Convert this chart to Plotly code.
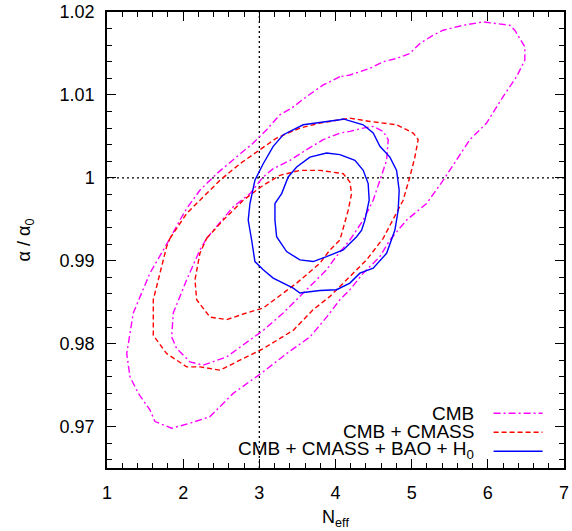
import plotly.graph_objects as go

# reference values
N_REF = 3.0
ALPHA_REF = 1.0

# axis ticks
x_tick_vals = [1, 2, 3, 4, 5, 6, 7]
x_tick_text = ["1", "2", "3", "4", "5", "6", "7"]
y_tick_vals = [0.97, 0.98, 0.99, 1.00, 1.01, 1.02]
y_tick_text = ["0.97", "0.98", "0.99", "1", "1.01", "1.02"]

# CMB contours (2 sigma outer, 1 sigma inner)
cmb_2s_x = [4.058, 3.839, 3.621, 3.424, 3.270, 3.096, 2.920, 2.702, 2.440, 2.220, 2.046, 1.958, 1.827,
            1.564, 1.345, 1.259, 1.302, 1.411, 1.564, 1.630, 1.849, 2.089, 2.352, 2.657, 3.051, 3.358,
            3.664, 3.883, 4.058, 4.189, 4.364, 4.583, 4.714, 4.933, 5.196, 5.413, 5.589, 5.764, 5.983,
            6.201, 6.377, 6.486, 6.486, 6.354, 6.289, 5.938, 5.676, 5.413, 5.282, 5.108, 4.976, 4.802,
            4.626, 4.451, 4.189]
cmb_2s_y = [1.0122, 1.0112, 1.0098, 1.0084, 1.0076, 1.0058, 1.0042, 1.0025, 1.0005, 0.9985, 0.9963, 0.9949, 0.9927,
            0.9885, 0.9837, 0.9788, 0.9760, 0.9740, 0.9720, 0.9706, 0.9698, 0.9704, 0.9712, 0.9740, 0.9766, 0.9788,
            0.9808, 0.9832, 0.9853, 0.9865, 0.9885, 0.9905, 0.9925, 0.9949, 0.9969, 0.9997, 1.0021, 1.0046, 1.0066,
            1.0098, 1.0122, 1.0142, 1.0158, 1.0178, 1.0184, 1.0188, 1.0184, 1.0178, 1.0172, 1.0162, 1.0150, 1.0144,
            1.0140, 1.0132, 1.0124]
cmb_1s_x = [2.308, 2.440, 2.657, 2.877, 3.051, 3.182, 3.402, 3.621, 3.839, 4.058, 4.189, 4.364, 4.495,
            4.626, 4.692, 4.671, 4.583, 4.495, 4.364, 4.189, 3.992, 3.883, 3.576, 3.314, 3.051, 2.789,
            2.571, 2.264, 2.089, 1.915, 1.849, 1.870, 2.046, 2.220]
cmb_1s_y = [0.9927, 0.9941, 0.9965, 0.9981, 1.0001, 1.0011, 1.0021, 1.0034, 1.0046, 1.0054, 1.0056, 1.0060, 1.0062,
            1.0056, 1.0046, 1.0021, 0.9997, 0.9973, 0.9949, 0.9925, 0.9903, 0.9889, 0.9861, 0.9837, 0.9816, 0.9798,
            0.9784, 0.9774, 0.9778, 0.9794, 0.9808, 0.9837, 0.9877, 0.9913]

# CMB + CMASS contours
cmass_2s_x = [1.827, 2.046, 2.264, 2.483, 2.745, 2.965, 3.227, 3.533, 3.795, 4.058, 4.189, 4.451, 4.802,
              5.020, 5.085, 5.042, 4.976, 4.888, 4.757, 4.626, 4.408, 4.146, 3.927, 3.707, 3.445, 3.051,
              2.745, 2.483, 2.220, 2.046, 1.783, 1.608, 1.608, 1.696, 1.783]
cmass_2s_y = [0.9927, 0.9957, 0.9977, 0.9997, 1.0017, 1.0031, 1.0048, 1.0060, 1.0066, 1.0070, 1.0072, 1.0068, 1.0064,
              1.0054, 1.0046, 1.0025, 1.0001, 0.9973, 0.9949, 0.9927, 0.9901, 0.9877, 0.9857, 0.9841, 0.9816, 0.9794,
              0.9780, 0.9768, 0.9772, 0.9772, 0.9788, 0.9810, 0.9853, 0.9885, 0.9917]
cmass_1s_x = [2.308, 2.526, 2.789, 3.051, 3.270, 3.533, 3.795, 3.927, 4.101, 4.189, 4.211, 4.167, 4.101,
              4.058, 3.927, 3.795, 3.490, 3.051, 2.833, 2.571, 2.352, 2.177, 2.155, 2.220]
cmass_1s_y = [0.9927, 0.9949, 0.9973, 0.9991, 1.0003, 1.0009, 1.0009, 1.0007, 1.0005, 0.9995, 0.9981, 0.9961, 0.9941,
              0.9925, 0.9913, 0.9897, 0.9873, 0.9843, 0.9837, 0.9829, 0.9832, 0.9853, 0.9877, 0.9909]

# CMB + CMASS + BAO + H0 contours
bao_2s_x = [4.058, 3.576, 3.314, 3.182, 3.051, 2.942, 2.877, 2.854, 2.899, 2.942, 3.051, 3.182, 3.445,
            3.533, 3.795, 4.014, 4.189, 4.320, 4.495, 4.671, 4.780, 4.823, 4.836, 4.802, 4.714, 4.583,
            4.495, 4.364, 4.101]
bao_2s_y = [1.0070, 1.0064, 1.0052, 1.0038, 1.0017, 0.9997, 0.9969, 0.9949, 0.9925, 0.9899, 0.9889, 0.9879, 0.9867,
            0.9861, 0.9864, 0.9865, 0.9873, 0.9885, 0.9891, 0.9909, 0.9937, 0.9961, 0.9985, 1.0009, 1.0025, 1.0038,
            1.0054, 1.0064, 1.0071]
bao_1s_x = [4.058, 3.883, 3.664, 3.490, 3.379, 3.293, 3.205, 3.205, 3.227, 3.358, 3.533, 3.707, 3.883,
            4.101, 4.277, 4.343, 4.386, 4.442, 4.429, 4.364, 4.255]
bao_1s_y = [1.0028, 1.0030, 1.0025, 1.0013, 1.0001, 0.9981, 0.9969, 0.9949, 0.9929, 0.9911, 0.9901, 0.9899, 0.9905,
            0.9913, 0.9929, 0.9937, 0.9949, 0.9973, 0.9993, 1.0009, 1.0021]

series_names = ["CMB", "CMB + CMASS", "CMB + CMASS + BAO + H<sub>0</sub>"]
series_data = [
    (cmb_2s_x, cmb_2s_y, cmb_1s_x, cmb_1s_y),
    (cmass_2s_x, cmass_2s_y, cmass_1s_x, cmass_1s_y),
    (bao_2s_x, bao_2s_y, bao_1s_x, bao_1s_y),
]
series_style = [
    dict(color="#ff00ff", dash="7px,3px,2px,3px"),
    dict(color="#ff0000", dash="5px,3px"),
    dict(color="#0000ff", dash="solid"),
]

FONT = "Liberation Sans, Arial, sans-serif"
FS = 18

fig = go.Figure()


def closed(xs, ys):
    return list(xs) + [xs[0]], list(ys) + [ys[0]]


for name, (ox, oy, ix, iy), st in zip(series_names, series_data, series_style):
    cx1, cy1 = closed(ox, oy)
    cx2, cy2 = closed(ix, iy)
    fig.add_trace(go.Scatter(
        x=cx1 + [None] + cx2, y=cy1 + [None] + cy2,
        mode="lines", name="", connectgaps=False,
        line=dict(color=st["color"], dash=st["dash"], width=1.4),
        hovertemplate=name + "<extra></extra>",
    ))

# reference lines
fig.add_shape(type="line", xref="x", yref="paper", x0=N_REF, x1=N_REF, y0=0, y1=1,
              line=dict(color="black", width=1.3, dash="2px,3px"), layer="below")
fig.add_shape(type="line", xref="paper", yref="y", x0=0, x1=1, y0=ALPHA_REF, y1=ALPHA_REF,
              line=dict(color="black", width=1.3, dash="2px,3px"), layer="below")

# legend labels (text sits left of the line samples, as in the reference)
legend_y = [0.12, 0.080, 0.040]
for name, ly in zip(series_names, legend_y):
    fig.add_annotation(text=name, xref="paper", yref="paper", x=0.808, y=ly,
                       xanchor="right", yanchor="middle", showarrow=False,
                       font=dict(family=FONT, size=19, color="black"))

axis_common = dict(
    showgrid=False, zeroline=False, showline=True, linecolor="black", linewidth=1.5,
    mirror="allticks", ticks="inside", ticklen=9, tickwidth=1.3, tickcolor="black",
    tickfont=dict(family=FONT, size=FS, color="black"), automargin=False,
)

fig.update_layout(
    width=572, height=531,
    margin=dict(l=107, r=8, t=12, b=63),
    plot_bgcolor="white", paper_bgcolor="white",
    showlegend=True,
    legend=dict(x=0.835, y=0.152, xanchor="left", yanchor="top",
                bgcolor="rgba(0,0,0,0)", borderwidth=0, itemwidth=49,
                font=dict(family=FONT, size=12), tracegroupgap=0),
    xaxis=dict(range=[1, 7], tickmode="array", tickvals=x_tick_vals, ticktext=x_tick_text,
               minor=dict(ticks="inside", ticklen=5, tickwidth=1.3, tickcolor="black", dtick=0.2, tick0=1, showgrid=False),
               ticklabelstandoff=8,
               title=dict(text="N<sub>eff</sub>", font=dict(family=FONT, size=FS, color="black"), standoff=8),
               **axis_common),
    yaxis=dict(range=[0.965, 1.02], tickmode="array", tickvals=y_tick_vals, ticktext=y_tick_text,
               minor=dict(ticks="inside", ticklen=5, tickwidth=1.3, tickcolor="black", dtick=0.002, tick0=0.97, showgrid=False),
               ticklabelstandoff=7,
               title=dict(text="α / α<sub>0</sub>", font=dict(family=FONT, size=FS, color="black"), standoff=24),
               **axis_common),
)

# remove the browser's default 8px body margin so the figure fills the window exactly
fig.write_html("out.html", config={"displayModeBar": False},
               post_script="document.body.style.margin='0px';")
